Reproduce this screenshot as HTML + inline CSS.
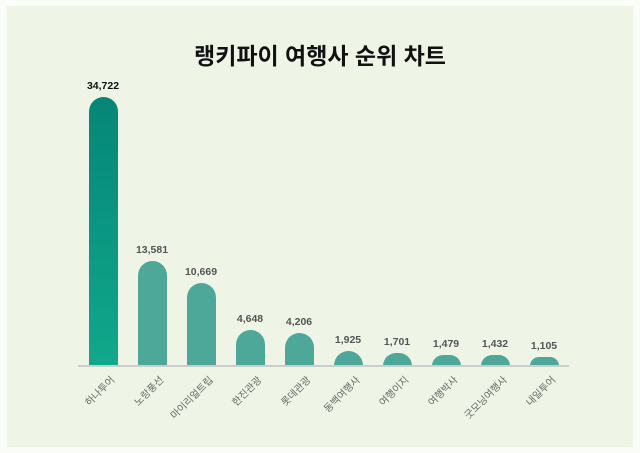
<!DOCTYPE html>
<html><head><meta charset="utf-8"><style>
body{margin:0;width:640px;height:453px;background:#fafcf8;position:relative;overflow:hidden;font-family:"Liberation Sans","Noto Sans CJK KR",sans-serif}
.panel{position:absolute;left:7px;top:6px;width:626px;height:441px;background:#eef5e7}
.t{position:absolute;left:0;width:640px;top:37px;text-align:center;font-size:23px;font-weight:bold;color:#111}
.bar{position:absolute;width:29px;border-radius:14.5px 14.5px 0 0;background:#4ea899}
.v{position:absolute;width:60px;text-align:center;font-size:10.5px;font-weight:bold;color:#555}
.c{position:absolute;font-size:10px;color:#666;white-space:nowrap;transform-origin:100% 0;transform:rotate(-45deg)}
.axis{position:absolute;left:78px;top:365px;width:491px;height:2px;background:#ccc}
</style></head><body>
<div class="panel"></div>
<div class="t">랭키파이 여행사 순위 차트</div>
<div id="g"></div>
<div class="axis"></div>
<script>
var d=[["하나투어",34722],["노랑풍선",13581],["마이리얼트립",10669],["한진관광",4648],["롯데관광",4206],["동백여행사",1925],["여행이지",1701],["여행박사",1479],["굿모닝여행사",1432],["내일투어",1105]];
var h="";d.forEach(function(e,i){var cx=103+49*i,ht=e[1]*269/34722,top=366-ht;
var bg=i==0?"background:linear-gradient(#058677,#10a88b);":"";
h+='<div class="bar" style="left:'+(cx-14.5)+'px;top:'+top+'px;height:'+ht+'px;'+bg+'"></div>';
h+='<div class="v" style="left:'+(cx-30)+'px;top:'+(top-17)+'px;'+(i==0?'color:#111':'')+'">'+e[1].toLocaleString("en-US")+'</div>';
h+='<div class="c" style="right:'+(640-cx-4)+'px;top:372px">'+e[0]+'</div>';});
document.getElementById("g").innerHTML=h;
</script>
</body></html>
